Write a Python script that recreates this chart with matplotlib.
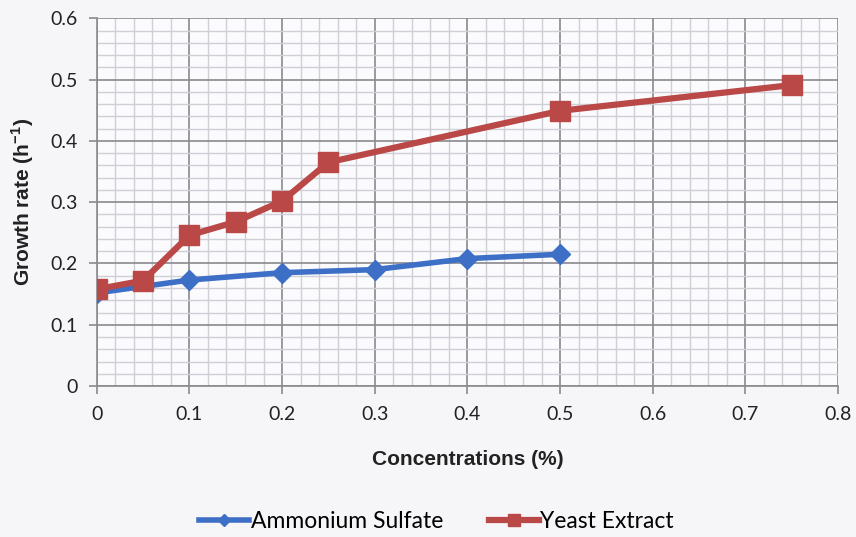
import numpy as np
import matplotlib
matplotlib.use("Agg")
from matplotlib import pyplot as plt
from matplotlib.ticker import MultipleLocator

# Growth rate vs. nitrogen source concentration
ammonium_conc = [0, 0.1, 0.2, 0.3, 0.4, 0.5]
ammonium_rate = [0.152, 0.173, 0.185, 0.190, 0.208, 0.215]

yeast_conc = [0, 0.05, 0.1, 0.15, 0.2, 0.25, 0.5, 0.75]
yeast_rate = [0.158, 0.172, 0.246, 0.268, 0.302, 0.365, 0.449, 0.491]

x_ticks = [0, 0.1, 0.2, 0.3, 0.4, 0.5, 0.6, 0.7, 0.8]
y_ticks = [0, 0.1, 0.2, 0.3, 0.4, 0.5, 0.6]

fig = plt.figure(figsize=(8.56, 5.37), dpi=100, facecolor="#f6f6f8")
ax = fig.add_axes([0.113, 0.281, 0.866, 0.685])
ax.set_facecolor("#fbfbfe")

ax.plot(ammonium_conc, ammonium_rate, color="#3d6fc6", lw=4, marker="D",
        markersize=10, label="Ammonium Sulfate", zorder=5)
ax.plot(yeast_conc, yeast_rate, color="#b94846", lw=4.5, marker="s",
        markersize=14, label="Yeast Extract", zorder=6)

ax.set_xlim(0, 0.8)
ax.set_ylim(0, 0.6)
ax.set_xticks(x_ticks)
ax.set_xticklabels([f"{t:g}" for t in x_ticks])
ax.set_yticks(y_ticks)
ax.set_yticklabels([f"{t:g}" for t in y_ticks])
ax.xaxis.set_minor_locator(MultipleLocator(0.02))
ax.yaxis.set_minor_locator(MultipleLocator(0.02))

ax.grid(which="major", color="#8a8a8e", lw=1.2)
ax.grid(which="minor", color="#cfcfd6", lw=1.0)
ax.set_axisbelow(True)

for side in ["top", "right"]:
    ax.spines[side].set_visible(False)
for side in ["left", "bottom"]:
    ax.spines[side].set_color("#8a8a8e")
    ax.spines[side].set_linewidth(1.2)

ax.tick_params(which="major", length=6, color="#8a8a8e", width=1.2,
               labelsize=14, labelcolor="#222222", pad=8)
ax.tick_params(which="minor", length=0)
for lab in ax.get_xticklabels() + ax.get_yticklabels():
    lab.set_family("Lato")

ax.set_xlabel("Concentrations (%)", fontsize=15, fontweight="bold",
              family="Liberation Sans", labelpad=20, color="#222222")
ax.set_ylabel("Growth rate (h$^{\\mathregular{-1}}$)", fontsize=15, fontweight="bold",
              family="Liberation Sans", labelpad=10, color="#222222")

fig.legend(loc="lower center", bbox_to_anchor=(0.51, -0.03), ncol=2,
           frameon=False, prop={"family": "Lato", "size": 16.5},
           handlelength=2.2, handletextpad=0.05, columnspacing=2.0,
           markerscale=0.65)

plt.savefig("out.png", dpi=100, facecolor=fig.get_facecolor())
